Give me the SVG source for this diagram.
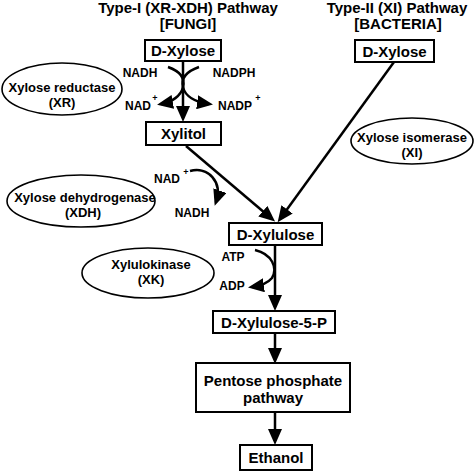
<svg xmlns="http://www.w3.org/2000/svg" width="474" height="472" viewBox="0 0 474 472">
<defs>
<marker id="ah" markerUnits="userSpaceOnUse" markerWidth="16" markerHeight="14" refX="12" refY="7" orient="auto">
<path d="M0,0 L16,7 L0,14 z" fill="#000"/>
</marker>
<style>
text{font-family:"Liberation Sans",Arial,sans-serif;font-weight:bold;fill:#000;text-anchor:middle}
.t{font-size:15px}
.b{font-size:15px}
.e{font-size:13px}
.c{font-size:12px}
.sup{font-size:9px}
.box{fill:#fff;stroke:#000;stroke-width:2}
.ell{fill:#fff;stroke:#000;stroke-width:1.6}
.ln{fill:none;stroke:#000;stroke-width:2.5;marker-end:url(#ah)}
</style>
</defs>
<rect width="474" height="472" fill="#fff"/>

<g id="titles">
<text class="t" x="188" y="13">Type-I (XR-XDH) Pathway</text>
<text class="t" x="188" y="29">[FUNGI]</text>
<text class="t" x="397" y="13">Type-II (XI) Pathway</text>
<text class="t" x="398" y="29">[BACTERIA]</text>
</g>

<g id="connectors">
<path class="ln" d="M183,61 L183,118"/>
<path class="ln" d="M168,67 C182,72 185,79 183,87 C181,96 172,102 161,104"/>
<path class="ln" d="M199,67 C185,72 181,79 183,87 C185,96 195,102 209,104"/>
<path class="ln" d="M186,146 L272,219"/>
<path class="ln" d="M394,62 L280,219"/>
<path class="ln" d="M190,171 C208,166 223,182 216,202"/>
<path class="ln" d="M275,245 L275,307"/>
<path class="ln" d="M255,250 C272,254 278,268 272,278 C267,284 259,286 252,287"/>
<path class="ln" d="M275,333 L275,360"/>
<path class="ln" d="M275,412 L275,441"/>
</g>

<g id="cofactors">
<text class="c" x="140" y="77">NADH</text>
<text class="c" x="234" y="77">NADPH</text>
<text class="c" x="138" y="110">NAD</text><text class="sup" x="155" y="101">+</text>
<text class="c" x="235" y="110">NADP</text><text class="sup" x="258" y="101">+</text>
<text class="c" x="167" y="183">NAD</text><text class="sup" x="186" y="175">+</text>
<text class="c" x="192" y="217">NADH</text>
<text class="c" x="233" y="261">ATP</text>
<text class="c" x="232" y="290">ADP</text>
</g>

<g id="dxylose1">
<rect class="box" x="145" y="40" width="76" height="21"/>
<text class="b" x="183" y="56">D-Xylose</text>
</g>
<g id="dxylose2">
<rect class="box" x="355" y="40" width="79" height="22"/>
<text class="b" x="394.5" y="56.5">D-Xylose</text>
</g>
<g id="xylitol">
<rect class="box" x="146" y="122" width="75" height="23"/>
<text class="b" x="183.5" y="139">Xylitol</text>
</g>
<g id="dxylulose">
<rect class="box" x="229" y="223" width="93" height="22"/>
<text class="b" x="275.5" y="239.5">D-Xylulose</text>
</g>
<g id="dxylulose5p">
<rect class="box" x="213" y="311" width="122" height="22"/>
<text class="b" x="274" y="327.5">D-Xylulose-5-P</text>
</g>
<g id="ppp">
<rect class="box" x="196" y="363" width="154" height="49"/>
<text class="b" x="273" y="385.5">Pentose phosphate</text>
<text class="b" x="273" y="403">pathway</text>
</g>
<g id="ethanol">
<rect class="box" x="240" y="445" width="72" height="25"/>
<text class="b" x="276" y="463">Ethanol</text>
</g>

<g id="xr">
<ellipse class="ell" cx="62" cy="89" rx="60" ry="26"/>
<text class="e" x="62" y="92">Xylose reductase</text>
<text class="e" x="62" y="107">(XR)</text>
</g>
<g id="xi">
<ellipse class="ell" cx="412" cy="141" rx="61" ry="23"/>
<text class="e" x="412" y="142">Xylose isomerase</text>
<text class="e" x="412" y="157">(XI)</text>
</g>
<g id="xdh">
<ellipse class="ell" cx="81" cy="201" rx="74" ry="26"/>
<text class="e" x="85" y="201.5">Xylose dehydrogenase</text>
<text class="e" x="83" y="216.5">(XDH)</text>
</g>
<g id="xk">
<ellipse class="ell" cx="148" cy="273" rx="66" ry="25"/>
<text class="e" x="151" y="268.5">Xylulokinase</text>
<text class="e" x="151" y="283.5">(XK)</text>
</g>
</svg>
